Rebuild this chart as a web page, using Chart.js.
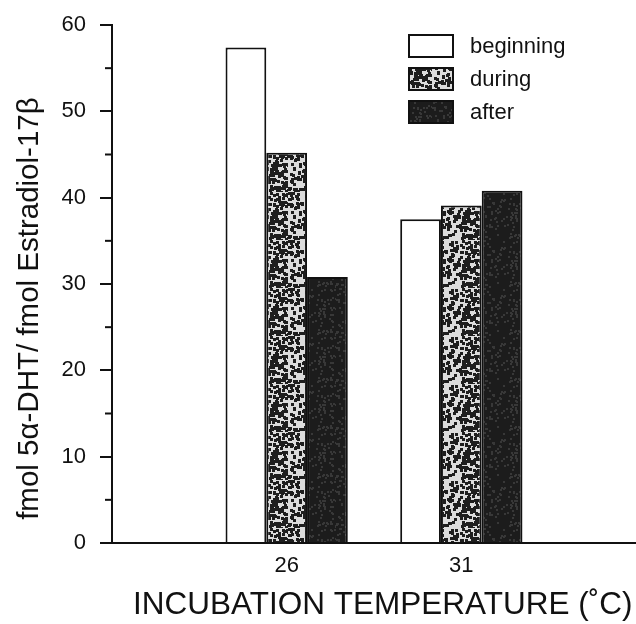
<!DOCTYPE html>
<html>
<head>
<meta charset="utf-8">
<script src="https://cdn.jsdelivr.net/npm/chart.js@4.4.0/dist/chart.umd.min.js"></script>
<style>
html, body { margin: 0; padding: 0; background: #fff; }
canvas { display: block; }
</style>
</head>
<body>
<canvas id="barChart" width="636" height="624"></canvas>
<script>
const categories = ['', '26', '31', ''];
const beginning = [null, 57.4, 37.5, null];
const during = [null, 45.2, 39.1, null];
const after = [null, 30.8, 40.8, null];
const seriesNames = ['beginning', 'during', 'after'];
const yMinorTicks = [5, 15, 25, 35, 45, 55];

const ink = '#111';

// speckled fill, like the scanned halftone
function speckle(base, dot, density, size) {
    const c = document.createElement('canvas');
    c.width = 48; c.height = 48;
    const g = c.getContext('2d');
    g.fillStyle = base;
    g.fillRect(0, 0, 48, 48);
    let seed = 7;
    const next = () => { seed = (seed * 16807) % 2147483647; return seed / 2147483647; };
    g.fillStyle = dot;
    for (let i = 0; i < 48 * 48 * density; i++) {
        g.fillRect(Math.floor(next() * 48), Math.floor(next() * 48), size, size);
    }
    return g.createPattern(c, 'repeat');
}

const duringFill = speckle('#dcdcdc', '#1e1e1e', 0.09, 3);
const afterFill = speckle('#1c1c1c', '#383838', 0.05, 2);

// small ticks at the 5s on the y axis
const minorTicks = {
    id: 'minorTicks',
    afterDraw(chart) {
        const y = chart.scales.y;
        const c = chart.ctx;
        c.save();
        c.strokeStyle = ink;
        c.lineWidth = 2;
        yMinorTicks.forEach(v => {
            const py = y.getPixelForValue(v);
            c.beginPath();
            c.moveTo(y.right - 7, py);
            c.lineTo(y.right, py);
            c.stroke();
        });
        c.restore();
    }
};

// legend drawn as in the figure: boxes stacked top right
const boxLegend = {
    id: 'boxLegend',
    afterDraw(chart) {
        const c = chart.ctx;
        c.save();
        c.font = '22px "Liberation Sans", Arial, sans-serif';
        c.textBaseline = 'middle';
        chart.data.datasets.forEach((ds, i) => {
            const top = 35 + i * 33;
            c.fillStyle = ds.backgroundColor;
            c.fillRect(409, top, 44, 22);
            c.strokeStyle = ink;
            c.lineWidth = 2;
            c.strokeRect(409, top, 44, 22);
            c.fillStyle = ink;
            c.fillText(ds.label, 470, top + 12);
        });
        c.restore();
    }
};

Chart.defaults.font.family = '"Liberation Sans", Arial, sans-serif';
Chart.defaults.color = ink;

const ctx = document.getElementById('barChart').getContext('2d');

const barChart = new Chart(ctx, {
    type: 'bar',
    data: {
        labels: categories,
        datasets: [
            { label: seriesNames[0], data: beginning, backgroundColor: '#fff' },
            { label: seriesNames[1], data: during, backgroundColor: duringFill },
            { label: seriesNames[2], data: after, backgroundColor: afterFill }
        ].map(ds => Object.assign(ds, {
            borderColor: ink,
            borderWidth: 2,
            barPercentage: 1,
            categoryPercentage: 0.7
        }))
    },
    options: {
        responsive: false,
        animation: false,
        layout: { padding: { top: 25, right: 0, left: 0, bottom: 0 } },
        plugins: {
            legend: { display: false },
            tooltip: { enabled: false }
        },
        scales: {
            x: {
                offset: false,
                grid: { display: false },
                border: { display: true, color: ink, width: 2 },
                ticks: { font: { size: 22 }, padding: 2, autoSkip: false, maxRotation: 0 },
                title: {
                    display: true,
                    text: '  INCUBATION TEMPERATURE (˚C)',
                    font: { size: 31.5 },
                    padding: { top: 0, bottom: 0 }
                },
                afterFit: s => { s.height = 81; s.paddingLeft = 0; s.paddingRight = 0; }
            },
            y: {
                min: 0,
                max: 60,
                ticks: { stepSize: 10, font: { size: 22 }, padding: 14 },
                grid: { drawOnChartArea: false, tickLength: 12, color: ink, lineWidth: 2 },
                border: { color: ink, width: 2 },
                title: {
                    display: true,
                    text: 'fmol 5α-DHT/ fmol Estradiol-17β      ',
                    font: { size: 29.5 },
                    padding: { top: 12, bottom: 0 }
                },
                afterFit: s => { s.width = 112; s.paddingTop = 0; }
            }
        }
    },
    plugins: [minorTicks, boxLegend]
});
</script>
</body>
</html>
